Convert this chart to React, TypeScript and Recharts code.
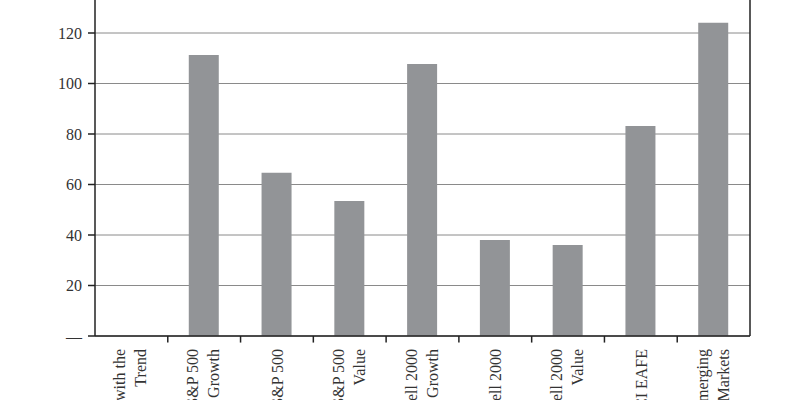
import { BarChart, Bar, XAxis, YAxis, CartesianGrid, ReferenceLine } from 'recharts'

const CATEGORIES = [
  'Trading with the\nTrend',
  'S&P 500\nGrowth',
  'S&P 500',
  'S&P 500\nValue',
  'Russell 2000\nGrowth',
  'Russell 2000',
  'Russell 2000\nValue',
  'MSCI EAFE',
  'Emerging\nMarkets',
]

const VALUES = [0, 111.3, 64.7, 53.5, 107.7, 38.0, 36.0, 83.2, 124.1]

const Y_TICKS = [0, 20, 40, 60, 80, 100, 120]

const data = CATEGORIES.map((name, i) => ({ name, value: VALUES[i] }))

const FONT = '"Liberation Serif", "DejaVu Serif", serif'
const TEXT = '#333'
const AXIS = '#222'

function CategoryTick({ x, y, payload }: { x?: number; y?: number; payload?: { value: string } }) {
  const lines = String(payload?.value ?? '').split('\n')
  const offsets = lines.length > 1 ? [-6, 15] : [6]
  return (
    <g transform={`translate(${x},${y})`}>
      <text transform="rotate(-90)" textAnchor="end" fontFamily={FONT} fontSize={16} fill={TEXT}>
        {lines.map((l, i) => (
          <tspan key={i} x={0} y={offsets[i]}>
            {l}
          </tspan>
        ))}
      </text>
    </g>
  )
}

export default function App() {
  return (
    <div style={{ position: 'absolute', left: 0, top: 0, width: 800, height: 400, overflow: 'hidden', background: '#fff' }}>
      <div style={{ position: 'absolute', left: 0, top: -20 }}>
        <BarChart
          width={800}
          height={440}
          data={data}
          margin={{ top: 2.5, right: 50, bottom: 83, left: 0 }}
        >
          <CartesianGrid horizontal vertical={false} stroke="#8a8a8a" strokeWidth={1} />
          <XAxis
            dataKey="name"
            height={1}
            interval={0}
            tickLine={false}
            tickSize={0}
            tickMargin={13}
            axisLine={{ stroke: AXIS, strokeWidth: 1.5 }}
            tick={<CategoryTick />}
          />
          <YAxis
            domain={[0, 140]}
            ticks={Y_TICKS}
            width={95}
            tickSize={7}
            tickMargin={6}
            tickLine={{ stroke: AXIS, strokeWidth: 1.5 }}
            axisLine={{ stroke: AXIS, strokeWidth: 1.5 }}
            tickFormatter={(v: number) => (v === 0 ? '—' : String(v))}
            tick={{ fontFamily: FONT, fontSize: 16, fill: TEXT }}
          />
          {/* short tick marks below the axis at the category boundaries */}
          {CATEGORIES.slice(1).map((c) => (
            <ReferenceLine
              key={c}
              segment={[{ x: c, y: 0 }, { x: c, y: -2.6 }]}
              position="start"
              ifOverflow="visible"
              stroke={AXIS}
              strokeWidth={1.5}
            />
          ))}
          <ReferenceLine x={CATEGORIES[CATEGORIES.length - 1]} position="end" stroke={AXIS} strokeWidth={1.5} />
          <ReferenceLine y={140} stroke={AXIS} strokeWidth={1.5} />
          <Bar dataKey="value" fill="#929497" barSize={30} isAnimationActive={false} />
        </BarChart>
      </div>
    </div>
  )
}
